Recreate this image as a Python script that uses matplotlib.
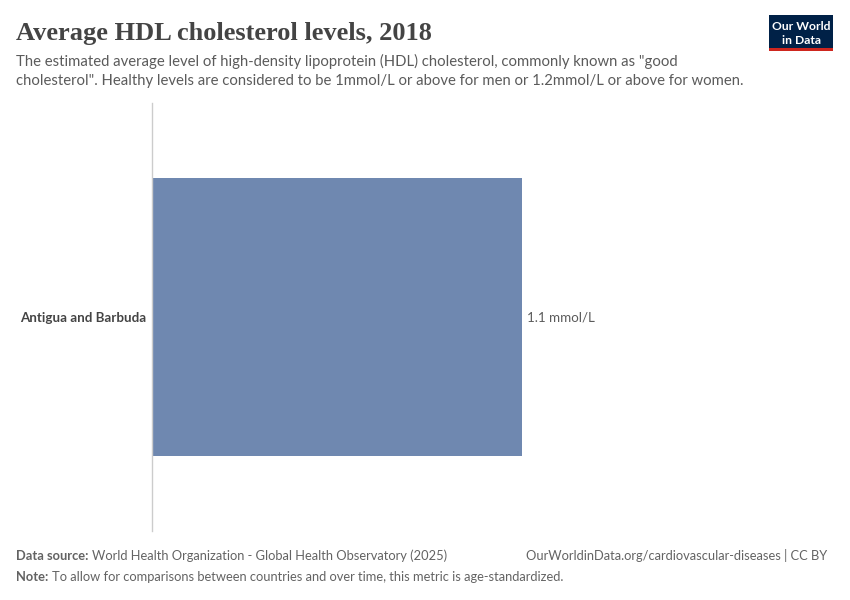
import matplotlib
matplotlib.use("Agg")
import matplotlib.pyplot as plt
from matplotlib.patches import Rectangle

countries = ["Antigua and Barbuda"]
values = [1.1]
unit = "mmol/L"

W, H = 850, 600
fig = plt.figure(figsize=(W / 100, H / 100), dpi=100)
fig.patch.set_facecolor("white")

def fx(px):
    return px / W

def fy(py):
    return 1 - py / H

# Axes
ax = fig.add_axes([fx(152), fy(531), fx(832) - fx(152), fy(103) - fy(531)])
ax.barh(range(len(countries)), values, height=0.65, color="#6f88b0", zorder=2)
ax.set_xlim(0, 2.02)
ax.set_ylim(-0.5, len(countries) - 0.5)
ax.invert_yaxis()
for s in ["top", "right", "bottom"]:
    ax.spines[s].set_visible(False)
ax.spines["left"].set_color("#cccccc")
ax.spines["left"].set_linewidth(1)
ax.set_xticks([])
ax.set_yticks(range(len(countries)))
ax.set_yticklabels(countries, fontfamily="Lato", fontweight="bold", fontsize=9.6, color="#444444")
ax.tick_params(axis="y", length=0, pad=4)
for i, v in enumerate(values):
    ax.text(v + 0.014, i, f"{v} {unit}", va="center", ha="left", fontfamily="Lato",
            fontsize=9.6, color="#5b5b5b")

# Title and subtitle
fig.text(fx(16), fy(40), "Average HDL cholesterol levels, 2018", fontfamily="Liberation Serif",
         fontweight="bold", fontsize=19, color="#444444", ha="left", va="baseline")
fig.text(fx(16), fy(66), "The estimated average level of high-density lipoprotein (HDL) cholesterol, commonly known as \"good",
         fontfamily="Lato", fontsize=10.7, color="#5b5b5b", ha="left", va="baseline")
fig.text(fx(16), fy(85), "cholesterol\". Healthy levels are considered to be 1mmol/L or above for men or 1.2mmol/L or above for women.",
         fontfamily="Lato", fontsize=10.7, color="#5b5b5b", ha="left", va="baseline")

# Logo
fig.patches.append(Rectangle((fx(769), fy(51)), fx(833) - fx(769), fy(15) - fy(51),
                             transform=fig.transFigure, facecolor="#002147", edgecolor="none"))
fig.patches.append(Rectangle((fx(769), fy(51)), fx(833) - fx(769), fy(48) - fy(51),
                             transform=fig.transFigure, facecolor="#ce261e", edgecolor="none"))
fig.text(fx(801), fy(27), "Our World", fontfamily="Lato", fontweight="bold", fontsize=8.7,
         color="white", ha="center", va="center")
fig.text(fx(801), fy(40), "in Data", fontfamily="Lato", fontweight="bold", fontsize=8.7,
         color="white", ha="center", va="center")

# Footer
fs = 9.3
fc = "#636363"
t = fig.text(fx(16), fy(560), "Data source:", fontfamily="Lato", fontweight="bold", fontsize=fs,
             color=fc, ha="left", va="baseline")
fig.canvas.draw()
bb = t.get_window_extent()
fig.text(bb.x1 / W + 0.004, fy(560), "World Health Organization - Global Health Observatory (2025)",
         fontfamily="Lato", fontsize=fs, color=fc, ha="left", va="baseline")
fig.text(fx(827), fy(560), "OurWorldinData.org/cardiovascular-diseases | CC BY",
         fontfamily="Lato", fontsize=fs, color=fc, ha="right", va="baseline")
t2 = fig.text(fx(16), fy(581), "Note:", fontfamily="Lato", fontweight="bold", fontsize=fs,
              color=fc, ha="left", va="baseline")
fig.canvas.draw()
bb2 = t2.get_window_extent()
fig.text(bb2.x1 / W + 0.004, fy(581), "To allow for comparisons between countries and over time, this metric is age-standardized.",
         fontfamily="Lato", fontsize=fs, color=fc, ha="left", va="baseline")

fig.savefig("out.png", dpi=100, facecolor="white")
